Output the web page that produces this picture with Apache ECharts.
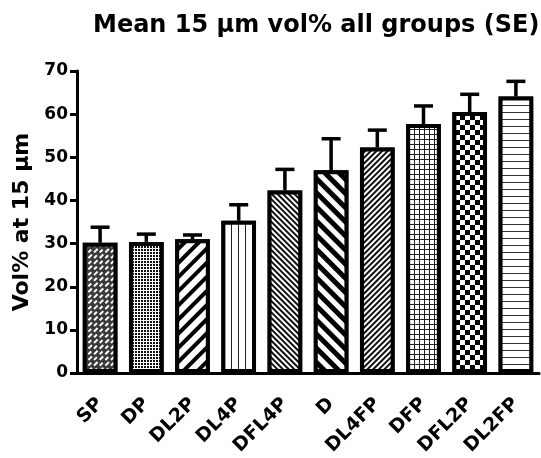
<!DOCTYPE html>
<html>
<head>
<meta charset="utf-8">
<script src="https://cdn.jsdelivr.net/npm/echarts@6/dist/echarts.min.js"></script>
<style>
  html, body { margin: 0; padding: 0; background: #fff; }
  #chart { width: 541px; height: 458px; }
</style>
</head>
<body>
<div id="chart"></div>
<script>
// Group names along the x axis
const categories = ['SP', 'DP', 'DL2P', 'DL4P', 'DFL4P', 'D', 'DL4FP', 'DFP', 'DFL2P', 'DL2FP'];
// Mean vol% at 15 µm per group
const meanValues = [30.2, 30.4, 31.0, 35.3, 42.3, 47.0, 52.3, 57.7, 60.5, 64.1];
// Standard error per group (drawn upward only)
const seValues = [3.6, 1.8, 1.0, 3.7, 4.9, 7.3, 4.0, 4.2, 4.1, 3.5];
// Value axis range and step
const yMin = 0;
const yMax = 70;
const yStep = 10;

const FONT = '"DejaVu Sans", "Liberation Sans", Arial, sans-serif';
// decal rotation: positive turns the pattern clockwise, so -Q gives "/" and +Q gives "\"
const Q = Math.PI / 4;

// Hatch / fill pattern for each bar
const fills = [
  { color: '#fff', backgroundColor: '#3a3a3a', dashArrayX: [[5, 3], [0, 4, 5, -1]], dashArrayY: [2, 2], rotation: -Q },
  { color: '#111', backgroundColor: '#fff', dashArrayX: [2, 1], dashArrayY: [2, 1], rotation: 0 },
  { color: '#000', backgroundColor: '#fff', dashArrayX: [1, 0], dashArrayY: [4, 6], rotation: -Q },
  { color: '#222', backgroundColor: '#fff', dashArrayX: [1, 6], dashArrayY: [1, 0], rotation: 0 },
  { color: '#111', backgroundColor: '#fff', dashArrayX: [1, 0], dashArrayY: [2, 2], rotation: Q },
  { color: '#000', backgroundColor: '#fff', dashArrayX: [1, 0], dashArrayY: [5, 5], rotation: Q },
  { color: '#111', backgroundColor: '#fff', dashArrayX: [1, 0], dashArrayY: [2, 2], rotation: -Q },
  { color: '#fff', backgroundColor: '#222', dashArrayX: [4, 1], dashArrayY: [4, 1], rotation: 0 },
  { color: '#000', backgroundColor: '#fff', dashArrayX: [[5, 5], [0, 5, 5, 0]], dashArrayY: [5, 0], rotation: 0 },
  { color: '#333', backgroundColor: '#fff', dashArrayX: [1, 0], dashArrayY: [1, 6], rotation: 0 }
];

const barData = meanValues.map((v, i) => ({
  value: v,
  itemStyle: { decal: Object.assign({ symbol: 'rect', symbolSize: 1 }, fills[i]) }
}));

const errData = meanValues.map((v, i) => [i, v, v + seValues[i]]);

const chart = echarts.init(document.getElementById('chart'), null, { renderer: 'canvas' });

chart.setOption({
  animation: false,
  backgroundColor: '#fff',
  title: {
    text: 'Mean 15 \u00b5m vol% all groups (SE)',
    left: 88,
    top: 9,
    textStyle: { fontFamily: FONT, fontWeight: 'bold', fontSize: 24, color: '#000' }
  },
  grid: { left: 77, right: 2, top: 71, bottom: 84, containLabel: false },
  xAxis: {
    type: 'category',
    data: categories,
    axisLine: { lineStyle: { color: '#000', width: 3 } },
    axisTick: { alignWithLabel: true, length: 9, lineStyle: { color: '#000', width: 3 } },
    axisLabel: {
      rotate: 45, margin: 28, interval: 0,
      fontFamily: FONT, fontWeight: 'bold', fontSize: 19, color: '#000'
    }
  },
  yAxis: {
    type: 'value',
    min: yMin, max: yMax, interval: yStep,
    name: 'Vol% at 15 \u00b5m',
    nameLocation: 'middle',
    nameGap: 44,
    nameTextStyle: { fontFamily: FONT, fontWeight: 'bold', fontSize: 22, color: '#000' },
    axisLine: { show: true, lineStyle: { color: '#000', width: 3 } },
    axisTick: { show: true, length: 7, lineStyle: { color: '#000', width: 3 } },
    axisLabel: { margin: 9, fontFamily: FONT, fontWeight: 'bold', fontSize: 17, color: '#000' },
    splitLine: { show: false }
  },
  series: [
    {
      type: 'bar',
      data: barData,
      barCategoryGap: '25%',
      itemStyle: { color: '#fff', borderColor: '#000', borderWidth: 4 },
      z: 2
    },
    {
      type: 'custom',
      data: errData,
      z: 3,
      renderItem: function (params, api) {
        const x = api.value(0);
        const base = api.coord([x, api.value(1)]);
        const top = api.coord([x, api.value(2)]);
        const half = 9.5;
        const st = { stroke: '#000', lineWidth: 3.5 };
        return {
          type: 'group',
          children: [
            { type: 'line', shape: { x1: base[0], y1: base[1], x2: top[0], y2: top[1] }, style: st },
            { type: 'line', shape: { x1: top[0] - half, y1: top[1], x2: top[0] + half, y2: top[1] }, style: st }
          ]
        };
      }
    }
  ]
});
</script>
</body>
</html>
